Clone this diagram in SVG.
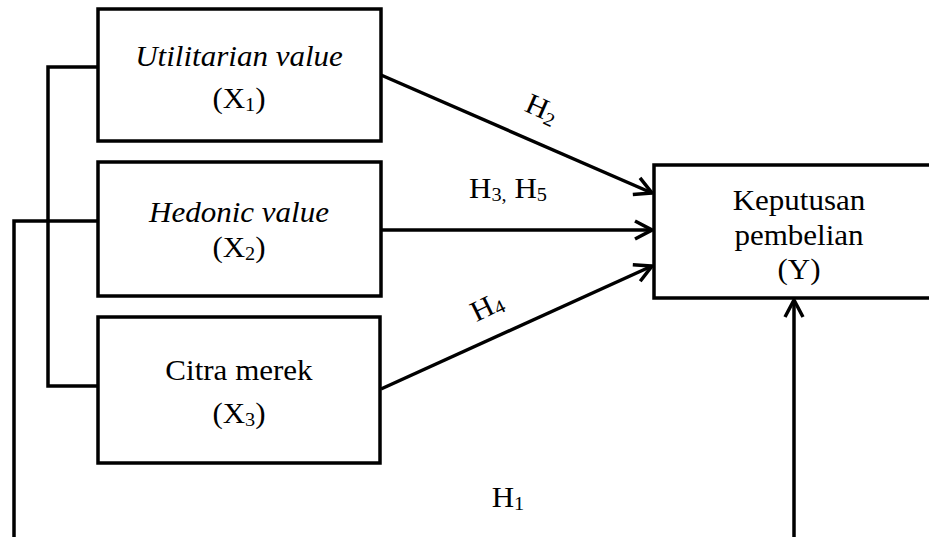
<svg xmlns="http://www.w3.org/2000/svg" width="929" height="537" viewBox="0 0 929 537">
<style>
.box{fill:#fff;stroke:#000;stroke-width:3.5}
.ln{fill:none;stroke:#000;stroke-width:3.5}
.t{font-family:"Liberation Serif","Times New Roman",serif;font-size:29px;fill:#000;text-anchor:middle}
.i{font-style:italic}
.sub{font-size:19px}
</style>
<defs>
<marker id="arr" markerUnits="userSpaceOnUse" markerWidth="24" markerHeight="24" viewBox="0 0 24 24" refX="21" refY="12" orient="auto">
<path d="M4,3 L21,12 L4,21" fill="none" stroke="#000" stroke-width="3.5"/>
</marker>
</defs>
<rect width="929" height="537" fill="#fff"/>
<g id="connectors">
<path class="ln" d="M98,67 H48 V386 H98"/>
<path class="ln" d="M98,221 H14 V537"/>
<line class="ln" x1="381" y1="75" x2="652" y2="193" marker-end="url(#arr)"/>
<line class="ln" x1="381" y1="230" x2="652" y2="230" marker-end="url(#arr)"/>
<line class="ln" x1="381" y1="389" x2="652" y2="266" marker-end="url(#arr)"/>
<line class="ln" x1="794" y1="537" x2="794" y2="300" marker-end="url(#arr)"/>
<text class="t" transform="translate(538,117) rotate(24) scale(1.07,1)">H<tspan class="sub" dy="4">2</tspan></text>
<text class="t" transform="translate(508,198) scale(1.07,1)">H<tspan class="sub" dy="3">3,</tspan><tspan dy="-3"> H</tspan><tspan class="sub" dy="3">5</tspan></text>
<text class="t" transform="translate(491,315) rotate(-26) scale(1.07,1)">H<tspan class="sub" dy="3">4</tspan></text>
<text class="t" transform="translate(508,507) scale(1.07,1)">H<tspan class="sub" dy="3">1</tspan></text>
</g>
<g id="x1">
<rect class="box" x="98" y="9" width="283" height="132"/>
<text class="t i" transform="translate(239,66) scale(1.07,1)">Utilitarian value</text>
<text class="t" transform="translate(239,108) scale(1.07,1)">(X<tspan class="sub" dy="3">1</tspan><tspan dy="-3">)</tspan></text>
</g>
<g id="x2">
<rect class="box" x="98" y="162" width="283" height="134"/>
<text class="t i" transform="translate(239,222) scale(1.07,1)">Hedonic value</text>
<text class="t" transform="translate(239,257) scale(1.07,1)">(X<tspan class="sub" dy="3">2</tspan><tspan dy="-3">)</tspan></text>
</g>
<g id="x3">
<rect class="box" x="98" y="317" width="282" height="146"/>
<text class="t" transform="translate(239,380) scale(1.07,1)">Citra merek</text>
<text class="t" transform="translate(239,423) scale(1.07,1)">(X<tspan class="sub" dy="3">3</tspan><tspan dy="-3">)</tspan></text>
</g>
<g id="y">
<rect class="box" x="654" y="165" width="290" height="133"/>
<text class="t" transform="translate(799,210) scale(1.07,1)">Keputusan</text>
<text class="t" transform="translate(799,245) scale(1.07,1)">pembelian</text>
<text class="t" transform="translate(799,279) scale(1.07,1)">(Y)</text>
</g>
</svg>
